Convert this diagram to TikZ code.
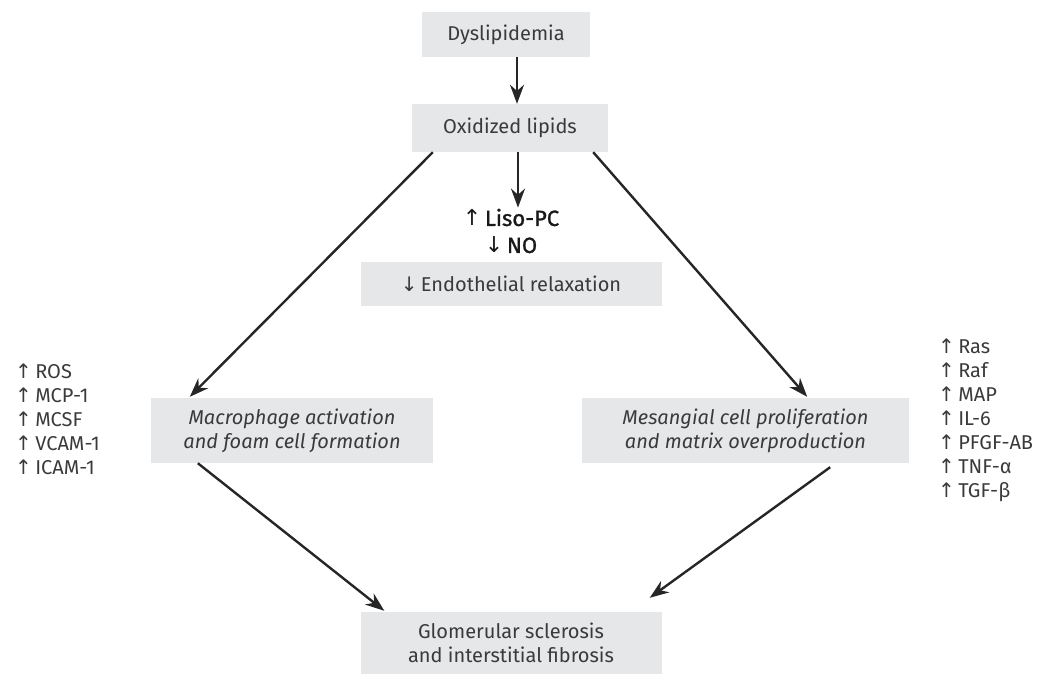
\documentclass[tikz,border=0pt]{standalone}
\usepackage{fontspec}
\setmainfont{Fira Sans}
\newfontfamily\arrowfont{DejaVu Sans}
\newfontfamily\semifont[FakeBold=1.2]{Fira Sans}
\usetikzlibrary{arrows.meta}
\definecolor{boxgray}{HTML}{E6E7E8}
\definecolor{textgray}{HTML}{3A3A3A}
\newcommand{\up}{{\arrowfont\char"2191}\,}
\newcommand{\dn}{{\arrowfont\char"2193}\,}
\begin{document}
\begin{tikzpicture}[x=1pt, y=-1pt,
  box/.style={fill=boxgray, inner sep=0pt, align=center, text=textgray,
    font=\fontsize{20}{24}\selectfont},
  list/.style={inner sep=0pt, align=left, anchor=north west, text=textgray,
    font=\fontsize{20}{24}\selectfont},
  arr/.style={-{Stealth[length=19pt, width=14pt]}, line width=2.4pt, draw=black!85}]
\useasboundingbox (0,0) rectangle (1037,676);

\node[box, minimum width=168pt, minimum height=45pt] (dys) at (506,34.5) {Dyslipidemia};
\node[box, minimum width=196pt, minimum height=48pt] (oxi) at (510,128) {Oxidized lipids};
\node[inner sep=1pt, align=center, text=black!90,
      font=\fontsize{22}{27}\semifont] (liso) at (511,231) {\up Liso-PC\\ \dn NO};
\node[box, minimum width=301pt, minimum height=44pt] (endo) at (511,284) {\dn Endothelial relaxation};
\node[box, minimum width=282pt, minimum height=65pt] (mac) at (292,430.5)
  {\itshape Macrophage activation\\ \itshape and foam cell formation};
\node[box, minimum width=327pt, minimum height=65pt] (mes) at (745.5,430.5)
  {\itshape Mesangial cell proliferation\\ \itshape and matrix overproduction};
\node[box, minimum width=301pt, minimum height=62pt] (glo) at (511,643)
  {Glomerular sclerosis\\ and interstitial fibrosis};

\node[list] (lft) at (15,364) {\up ROS\\ \up MCP-1\\ \up MCSF\\ \up VCAM-1\\ \up ICAM-1};
\node[list] (rgt) at (938,339) {\up Ras\\ \up Raf\\ \up MAP\\ \up IL-6\\ \up PFGF-AB\\ \up TNF-α\\ \up TGF-β};

\draw[arr] ([xshift=11pt]dys.south) -- ([xshift=7pt]oxi.north);
\draw[arr] ([xshift=8pt]oxi.south) -- ([xshift=7pt]liso.north);
\draw[arr] ([xshift=21pt]oxi.south west) -- ([xshift=39pt, yshift=1pt]mac.north west);
\draw[arr] ([xshift=-15pt]oxi.south east) -- ([xshift=-102pt, yshift=1pt]mes.north east);
\draw[arr] ([xshift=47pt]mac.south west) -- ([xshift=24pt, yshift=1pt]glo.north west);
\draw[arr] ([xshift=-79pt, yshift=-4pt]mes.south east) -- ([xshift=-12pt, yshift=14pt]glo.north east);

\end{tikzpicture}
\end{document}
